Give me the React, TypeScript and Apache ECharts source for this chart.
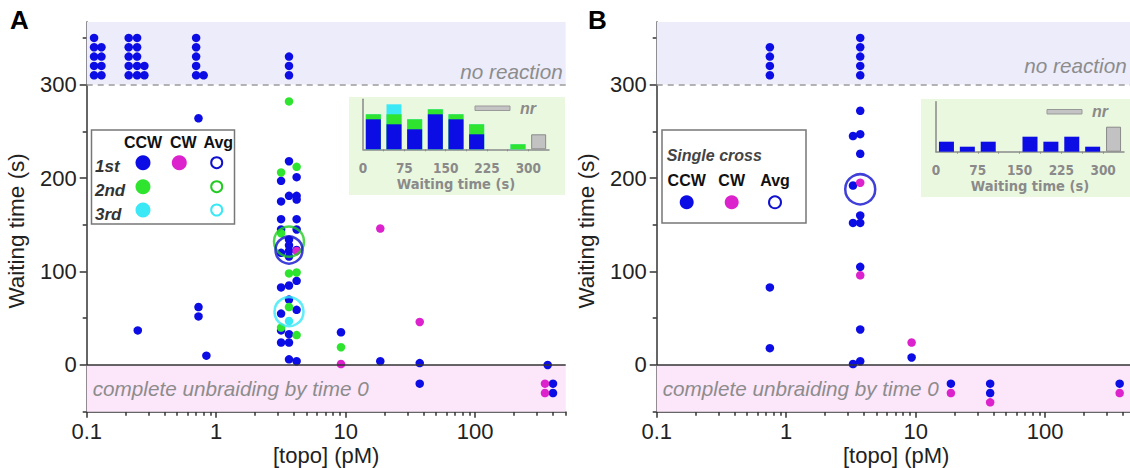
import React, { useEffect, useRef } from 'react';
import * as echarts from 'echarts';

const FONT = "'Liberation Sans', Arial, sans-serif";
const NARROW = "'Liberation Sans Narrow', 'Arial Narrow', 'DejaVu Sans Condensed', sans-serif";

const BLUE = '#0c0ce4';
const GREEN = '#2fe42f';
const CYAN = '#3ae8f6';
const MAGENTA = '#dc22cc';
const GRAYTXT = '#8c8c8c';

// ---- axis ticks ----
const xMajor = [0.1, 1, 10, 100];
const xMinor = [0.2, 0.3, 0.4, 0.5, 0.6, 0.7, 0.8, 0.9, 2, 3, 4, 5, 6, 7, 8, 9, 20, 30, 40, 50, 60, 70, 80, 90, 200, 300, 400, 500];
const yMajor = [0, 100, 200, 300];
const yMinor = [-50, 50, 150, 250, 350];

// ---- Panel A : [topo (pM), waiting time (s)] ----
const aCCW1st: [number, number][] = [
  [0.114, 310], [0.114, 320], [0.114, 330], [0.114, 340], [0.114, 350],
  [0.13, 310], [0.13, 320], [0.13, 330], [0.13, 340],
  [0.211, 310], [0.211, 320], [0.211, 330], [0.211, 340], [0.211, 350],
  [0.245, 310], [0.245, 320], [0.245, 330], [0.245, 340], [0.245, 350],
  [0.279, 310], [0.279, 320],
  [0.70, 310], [0.70, 320], [0.70, 330], [0.70, 340], [0.70, 350],
  [0.80, 310],
  [0.248, 37], [0.73, 264], [0.73, 62], [0.73, 52], [0.84, 10],
  [3.65, 330], [3.65, 320], [3.65, 310], [3.65, 218], [3.65, 181], [3.65, 134], [3.65, 128],
  [3.65, 122], [3.65, 116], [3.65, 85], [3.65, 70], [3.65, 33], [3.65, 24], [3.65, 6],
  [3.17, 197], [3.17, 175], [3.17, 156], [3.17, 145], [3.17, 120], [3.17, 83], [3.17, 55], [3.17, 37], [3.17, 24],
  [4.18, 201], [4.18, 181], [4.18, 177], [4.18, 156], [4.18, 145], [4.18, 123], [4.18, 90], [4.18, 59], [4.18, 4],
  [9.2, 35], [18.5, 4], [37.3, 2], [37.3, -20], [363, 0], [399, -20], [399, -30],
];
const aCCW2nd: [number, number][] = [
  [3.65, 282], [4.18, 212], [3.17, 206], [3.17, 141], [3.65, 98], [4.18, 99],
  [3.65, 62], [3.17, 40], [4.18, 32], [9.2, 19],
];
const aCCW3rd: [number, number][] = [[3.65, 47]];
const aCW1st: [number, number][] = [
  [4.18, 122], [18.5, 146], [37.3, 46], [9.2, 1], [346, -20], [346, -30],
];
const aAvg1st: [number, number][] = [[3.65, 123]];
const aAvg2nd: [number, number][] = [[3.65, 132]];
const aAvg3rd: [number, number][] = [[3.65, 57]];

// ---- Panel B ----
const bCCW: [number, number][] = [
  [0.748, 340], [0.748, 330], [0.748, 320], [0.748, 310], [0.748, 83], [0.748, 18],
  [3.73, 350], [3.73, 340], [3.73, 330], [3.73, 320], [3.73, 310], [3.73, 272], [3.73, 247],
  [3.73, 226], [3.73, 160], [3.73, 152], [3.73, 105], [3.73, 38], [3.73, 4],
  [3.28, 245], [3.28, 192], [3.28, 152], [3.28, 1],
  [9.3, 8], [18.7, -20], [37.6, -20], [37.6, -30], [376, -20],
];
const bCW: [number, number][] = [
  [3.73, 195], [3.73, 96], [9.3, 24], [18.7, -30], [37.6, -40], [376, -30],
];
const bAvg: [number, number][] = [[3.73, 188]];

// ---- Insets: histogram of waiting time (counts per 37.5 s bin) ----
const binCenters = [18.75, 56.25, 93.75, 131.25, 168.75, 206.25, 243.75, 281.25];
const nrCenter = 318.75;
const insetTickLabels = [0, 75, 150, 225, 300];
const binEdges = [37.5, 75, 112.5, 150, 187.5, 225, 262.5, 300];
const aHistBlue = [6, 5, 4, 7, 6, 3, 0, 0];
const aHistGreen = [1, 2, 2, 1, 1, 2, 0, 1];
const aHistCyan = [0, 2, 0, 0, 0, 0, 0, 0];
const aHistNr = 3;
const bHistBlue = [2, 1, 2, 0, 3, 2, 3, 1];
const bHistNr = 5;

const LAV = '#ececfb';
const PINK = '#fce6fa';
const INSET_BG = '#ebf8e0';

function mainXAxes(gi: number) {
  const line = { color: '#333', width: 1.5 };
  return [
    {
      type: 'log', gridIndex: gi, min: 0.1, max: 500, logBase: 10, position: 'bottom',
      axisLine: { show: true, onZero: false, lineStyle: line },
      axisTick: { show: true, length: 6, customValues: xMajor, lineStyle: line },
      axisLabel: {
        customValues: xMajor, fontSize: 22, lineHeight: 22, color: '#222', margin: 9, fontFamily: FONT,
        formatter: (v: number) => (v < 1 ? v.toFixed(1) : String(Math.round(v))),
      },
      splitLine: { show: false }, minorTick: { show: false },
      name: '[topo] (pM)', nameLocation: 'middle', nameGap: 32, nameMoveOverlap: false,
      nameTextStyle: { fontSize: 22, lineHeight: 24, color: '#222', fontFamily: FONT },
    },
    {
      type: 'log', gridIndex: gi, min: 0.1, max: 500, logBase: 10, position: 'bottom',
      axisLine: { show: false, onZero: false },
      axisTick: { show: true, length: 4, customValues: xMinor, lineStyle: line },
      axisLabel: { show: false }, splitLine: { show: false },
    },
  ];
}

function mainYAxes(gi: number) {
  const line = { color: '#333', width: 1.5 };
  return [
    {
      type: 'value', gridIndex: gi, min: -50, max: 367, position: 'left',
      axisLine: { show: true, onZero: false, lineStyle: line },
      axisTick: { show: true, length: 7, customValues: yMajor, lineStyle: line },
      axisLabel: { customValues: yMajor, fontSize: 22, color: '#222', margin: 10, fontFamily: FONT },
      splitLine: { show: false },
      name: 'Waiting time (s)', nameLocation: 'middle', nameGap: 59, nameMoveOverlap: false,
      nameTextStyle: { fontSize: 22.5, color: '#222', fontFamily: FONT, padding: [0, 28, 0, 0] },
    },
    {
      type: 'value', gridIndex: gi, min: -50, max: 367, position: 'left',
      axisLine: { show: false, onZero: false },
      axisTick: { show: true, length: 4, customValues: yMinor, lineStyle: line },
      axisLabel: { show: false }, splitLine: { show: false },
    },
  ];
}

function insetXAxis(gi: number, margin: number) {
  const c = '#8a8a8a';
  return {
    type: 'value', gridIndex: gi, min: 0, max: 337.5,
    axisLine: { show: true, onZero: false, lineStyle: { color: c, width: 1.5 } },
    axisTick: { show: true, length: 2, customValues: binEdges, lineStyle: { color: c } },
    axisLabel: {
      customValues: insetTickLabels, fontSize: 13.5, fontWeight: 'bold', color: c, margin, fontFamily: NARROW,
    },
    splitLine: { show: false },
    name: 'Waiting time (s)', nameLocation: 'middle', nameGap: 27,
    nameTextStyle: { fontSize: 14.5, fontWeight: 'bold', color: c, fontFamily: NARROW },
  };
}
function insetYAxis(gi: number) {
  return {
    type: 'value', gridIndex: gi, min: 0, max: 10,
    axisLine: { show: true, onZero: false, lineStyle: { color: '#8a8a8a', width: 1.5 } },
    axisTick: { show: false }, axisLabel: { show: false }, splitLine: { show: false },
  };
}

function bandSeries(xi: number, yi: number, rightDist: number) {
  return {
    type: 'scatter', xAxisIndex: xi, yAxisIndex: yi, data: [], z: 1, silent: true,
    markArea: {
      silent: true,
      data: [
        [
          {
            xAxis: 0.1, yAxis: 300, itemStyle: { color: LAV },
            label: {
              show: true, position: 'insideBottomRight', distance: rightDist, formatter: 'no reaction',
              fontSize: 20.7, fontStyle: 'italic', color: GRAYTXT, fontFamily: FONT,
            },
          },
          { xAxis: 500, yAxis: 367 },
        ],
        [
          {
            xAxis: 0.1, yAxis: -50, itemStyle: { color: PINK },
            label: {
              show: true, position: 'insideLeft', distance: 6, formatter: 'complete unbraiding by time 0',
              fontSize: 20.7, fontStyle: 'italic', color: GRAYTXT, fontFamily: FONT,
            },
          },
          { xAxis: 500, yAxis: 0 },
        ],
      ],
    },
    markLine: {
      silent: true, symbol: ['none', 'none'], label: { show: false },
      data: [
        { yAxis: 300, lineStyle: { type: [6, 5], color: '#9a9a9a', width: 1.5 } },
        { yAxis: 0, lineStyle: { type: 'solid', color: '#333', width: 1.5 } },
      ],
    },
  };
}

function dots(xi: number, yi: number, data: [number, number][], color: string) {
  return {
    type: 'scatter', xAxisIndex: xi, yAxisIndex: yi, data, symbolSize: 8.5, z: 3,
    itemStyle: { color, opacity: 1 },
  };
}
function rings(xi: number, yi: number, data: [number, number][], color: string, size: number) {
  return {
    type: 'scatter', xAxisIndex: xi, yAxisIndex: yi, data, symbolSize: size, z: 4,
    itemStyle: { color: 'rgba(0,0,0,0)', borderColor: color, borderWidth: 2.5 },
  };
}
// stacked histogram drawn as overlapping bars (tallest layer first)
function histLayers(xi: number, yi: number, layers: { vals: number[]; color: string }[], nr: number) {
  const out: any[] = [];
  const cum: number[][] = [];
  layers.forEach((l, k) => {
    cum.push(l.vals.map((v, i) => v + (k > 0 ? cum[k - 1][i] : 0)));
  });
  for (let k = layers.length - 1; k >= 0; k--) {
    out.push({
      type: 'bar', xAxisIndex: xi, yAxisIndex: yi, barWidth: 15, barGap: '-100%', z: 2 + (layers.length - k) * 0.01,
      data: binCenters.map((c, i) => [c, cum[k][i]]).concat(k === 0 ? [[nrCenter, 0]] : []),
      itemStyle: { color: layers[k].color },
    });
  }
  out.push({
    type: 'bar', xAxisIndex: xi, yAxisIndex: yi, barWidth: 15, barGap: '-100%',
    data: [[nrCenter, nr]],
    itemStyle: { color: '#c2c2c2', borderColor: '#8a8a8a', borderWidth: 1 },
  });
  return out;
}

function txt(x: number, y: number, text: string, o: any = {}) {
  return {
    type: 'text', x, y, z: 10,
    style: {
      text, fontFamily: FONT, fontSize: 16, fontWeight: 'bold', fill: '#111',
      align: 'center', verticalAlign: 'middle', ...o,
    },
  };
}
function dot(cx: number, cy: number, r: number, fill: string) {
  return { type: 'circle', z: 10, shape: { cx, cy, r }, style: { fill } };
}
function ring(cx: number, cy: number, r: number, stroke: string) {
  return { type: 'circle', z: 10, shape: { cx, cy, r }, style: { fill: 'none', stroke, lineWidth: 2 } };
}

export default function App() {
  const ref = useRef<HTMLDivElement>(null);
  useEffect(() => {
    if (!ref.current) return;
    const chart = echarts.init(ref.current, undefined, { renderer: 'svg' });
    const xA = mainXAxes(0);
    const xB = mainXAxes(1);
    const yA = mainYAxes(0);
    const yB = mainYAxes(1);
    const option: any = {
      animation: false,
      backgroundColor: '#ffffff',
      textStyle: { fontFamily: FONT },
      grid: [
        { left: 86.7, top: 22, width: 479, height: 389.7, outerBoundsMode: 'none' },
        { left: 656.7, top: 22, width: 479, height: 389.7, outerBoundsMode: 'none' },
        { left: 363, top: 99.3, width: 186, height: 50, outerBoundsMode: 'none' },
        { left: 936, top: 101.7, width: 188, height: 50, outerBoundsMode: 'none' },
      ],
      xAxis: [xA[0], xA[1], xB[0], xB[1], insetXAxis(2, 12), insetXAxis(3, 11)],
      yAxis: [yA[0], yA[1], yB[0], yB[1], insetYAxis(2), insetYAxis(3)],
      series: [
        bandSeries(0, 0, 3),
        dots(0, 0, aCCW1st, BLUE),
        dots(0, 0, aCCW2nd, GREEN),
        dots(0, 0, aCCW3rd, CYAN),
        dots(0, 0, aCW1st, MAGENTA),
        rings(0, 0, aAvg2nd, '#22cc22', 30),
        rings(0, 0, aAvg1st, '#1010d0', 27),
        rings(0, 0, aAvg3rd, CYAN, 29),
        bandSeries(2, 2, 9),
        dots(2, 2, bCCW, BLUE),
        dots(2, 2, bCW, MAGENTA),
        rings(2, 2, bAvg, '#1010d0', 30),
        ...histLayers(4, 4, [
          { vals: aHistBlue, color: BLUE },
          { vals: aHistGreen, color: GREEN },
          { vals: aHistCyan, color: CYAN },
        ], aHistNr),
        ...histLayers(5, 5, [{ vals: bHistBlue, color: BLUE }], bHistNr),
      ],
      graphic: [
        // panel letters
        txt(10, 20, 'A', { fontSize: 26, align: 'left', fill: '#000' }),
        txt(588, 20, 'B', { fontSize: 26, align: 'left', fill: '#000' }),
        // inset backgrounds
        { type: 'rect', z: -5, shape: { x: 349, y: 97, width: 216, height: 98 }, style: { fill: INSET_BG } },
        { type: 'rect', z: -5, shape: { x: 921, y: 99, width: 215, height: 98 }, style: { fill: INSET_BG } },
        // inset nr keys
        { type: 'rect', z: 10, shape: { x: 475, y: 106, width: 35, height: 4.5 }, style: { fill: '#c4c4c4', stroke: '#999', lineWidth: 1 } },
        txt(520, 108, 'nr', { fill: '#8a8a8a', fontStyle: 'italic', align: 'left' }),
        { type: 'rect', z: 10, shape: { x: 1047, y: 109.5, width: 35, height: 4.5 }, style: { fill: '#c4c4c4', stroke: '#999', lineWidth: 1 } },
        txt(1092, 111.5, 'nr', { fill: '#8a8a8a', fontStyle: 'italic', align: 'left' }),
        // legend A
        { type: 'rect', z: 9, shape: { x: 91.5, y: 130, width: 143, height: 94 }, style: { fill: '#fff', stroke: '#777', lineWidth: 1.5 } },
        txt(143, 142, 'CCW'), txt(183.3, 142, 'CW'), txt(218.3, 142, 'Avg'),
        txt(95, 166.7, '1st', { align: 'left', fontStyle: 'italic', fill: '#333', fontSize: 17 }),
        txt(95, 190, '2nd', { align: 'left', fontStyle: 'italic', fill: '#333', fontSize: 17 }),
        txt(95, 214.3, '3rd', { align: 'left', fontStyle: 'italic', fill: '#333', fontSize: 17 }),
        dot(143, 162.7, 7.5, BLUE), dot(179.3, 162.7, 7.5, MAGENTA), ring(216.7, 162.7, 5.5, '#1010d0'),
        dot(143, 186.7, 7.5, GREEN), ring(216.7, 186.7, 5.5, '#22cc22'),
        dot(143, 210, 7.5, CYAN), ring(216.7, 210, 5.5, CYAN),
        // legend B
        { type: 'rect', z: 9, shape: { x: 662, y: 130, width: 144, height: 93 }, style: { fill: '#fff', stroke: '#777', lineWidth: 1.5 } },
        txt(666.7, 155, 'Single cross', { align: 'left', fontStyle: 'italic', fill: '#444' }),
        txt(686.7, 180, 'CCW'), txt(731.7, 180, 'CW'), txt(775, 180, 'Avg'),
        dot(686.7, 202.3, 7, BLUE), dot(731.7, 202.3, 7, MAGENTA), ring(775, 202.3, 6, '#1010d0'),
      ],
    };
    chart.setOption(option);
    return () => chart.dispose();
  }, []);
  return (
    <div
      ref={ref}
      style={{ position: 'fixed', left: 0, top: 0, width: 1130, height: 468, background: '#fff' }}
    />
  );
}
